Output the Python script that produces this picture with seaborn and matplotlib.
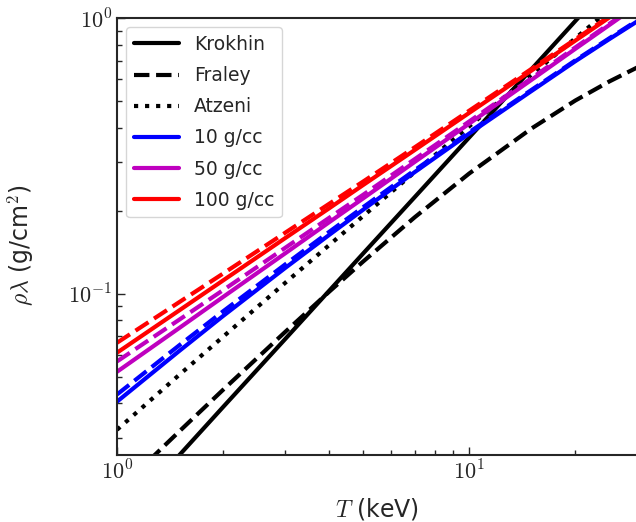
import numpy as np
import pandas as pd
import matplotlib
matplotlib.use("Agg")
import matplotlib.pyplot as plt
import matplotlib.ticker as mticker
import seaborn as sns

# temperature grid (keV)
T = [1, 1.5, 2, 3, 4, 5, 7, 10, 15, 20, 25, 30]

# reference fits (g/cm^2)
krokhin = [0.0147, 0.0259, 0.0388, 0.0684, 0.1024, 0.140, 0.224, 0.369, 0.651, 0.975, 1.33, 1.72]
fraley = [0.0192, 0.0316, 0.0448, 0.0726, 0.1016, 0.1309, 0.1893, 0.273, 0.397, 0.502, 0.589, 0.662]
atzeni = [0.0321, 0.0507, 0.0698, 0.1094, 0.150, 0.1914, 0.276, 0.405, 0.623, 0.844, 1.07, 1.29]

# density curves: solid and dashed variants
rho10 = [0.0406, 0.0619, 0.0830, 0.1239, 0.1633, 0.2018, 0.2761, 0.381, 0.543, 0.697, 0.839, 0.973]
rho10_d = [0.0431, 0.0649, 0.0863, 0.1276, 0.1675, 0.2061, 0.2805, 0.3855, 0.548, 0.702, 0.845, 0.980]
rho50 = [0.0521, 0.0750, 0.0973, 0.140, 0.1816, 0.2218, 0.3006, 0.414, 0.596, 0.773, 0.944, 1.112]
rho50_d = [0.0568, 0.0804, 0.1030, 0.1466, 0.1884, 0.2286, 0.3076, 0.4217, 0.604, 0.782, 0.953, 1.122]
rho100 = [0.0611, 0.0869, 0.1117, 0.159, 0.204, 0.248, 0.332, 0.453, 0.644, 0.828, 1.005, 1.18]
rho100_d = [0.0664, 0.0931, 0.1183, 0.1663, 0.2118, 0.2553, 0.3396, 0.4613, 0.6531, 0.8375, 1.014, 1.189]

sns.set_style("ticks")
plt.rcParams['font.family'] = ['DejaVu Sans']
plt.rcParams['mathtext.fontset'] = 'cm'

fig = plt.figure(figsize=(6.36, 5.22), dpi=100)
ax = fig.add_axes([0.184, 0.1284, 0.818, 0.837])

lw = 3
sns.lineplot(x=T, y=krokhin, color='k', lw=lw, ls='-', label='Krokhin', ax=ax)
sns.lineplot(x=T, y=fraley, color='k', lw=lw, ls='--', label='Fraley', ax=ax)
sns.lineplot(x=T, y=atzeni, color='k', lw=lw, ls=':', label='Atzeni', ax=ax)
sns.lineplot(x=T, y=rho10, color='b', lw=lw, label='10 g/cc', ax=ax)
sns.lineplot(x=T, y=rho10_d, color='b', lw=lw, ls='--', ax=ax)
sns.lineplot(x=T, y=rho50, color='m', lw=lw, label='50 g/cc', ax=ax)
sns.lineplot(x=T, y=rho50_d, color='m', lw=lw, ls='--', ax=ax)
sns.lineplot(x=T, y=rho100, color='r', lw=lw, label='100 g/cc', ax=ax)
sns.lineplot(x=T, y=rho100_d, color='r', lw=lw, ls='--', ax=ax)

ax.set_xscale('log')
ax.set_yscale('log')
ax.set_xlim(1, 30)
ax.set_ylim(0.026, 1)

fmt = mticker.FuncFormatter(lambda v, p: r'$10^{%d}$' % round(np.log10(v)))
ax.xaxis.set_major_formatter(fmt)
ax.yaxis.set_major_formatter(fmt)
ax.xaxis.set_minor_formatter(mticker.NullFormatter())
ax.yaxis.set_minor_formatter(mticker.NullFormatter())
ax.tick_params(which='both', direction='in', labelsize=16, width=1)
ax.tick_params(which='major', length=6)
ax.tick_params(which='minor', length=3.5)
for s in ax.spines.values():
    s.set_linewidth(1.5)

ax.set_xlabel(r'$T$ (keV)', fontsize=17)
ax.set_ylabel(r'$\rho\lambda$ (g/cm$^2$)', fontsize=17)
ax.xaxis.set_label_coords(0.5, -0.095)
ax.yaxis.set_label_coords(-0.155, 0.48)
ax.legend(loc='upper left', fontsize=13.5, handlelength=2.4, labelspacing=0.65,
          frameon=True, borderaxespad=0.5)

fig.savefig('out.png', dpi=100)
